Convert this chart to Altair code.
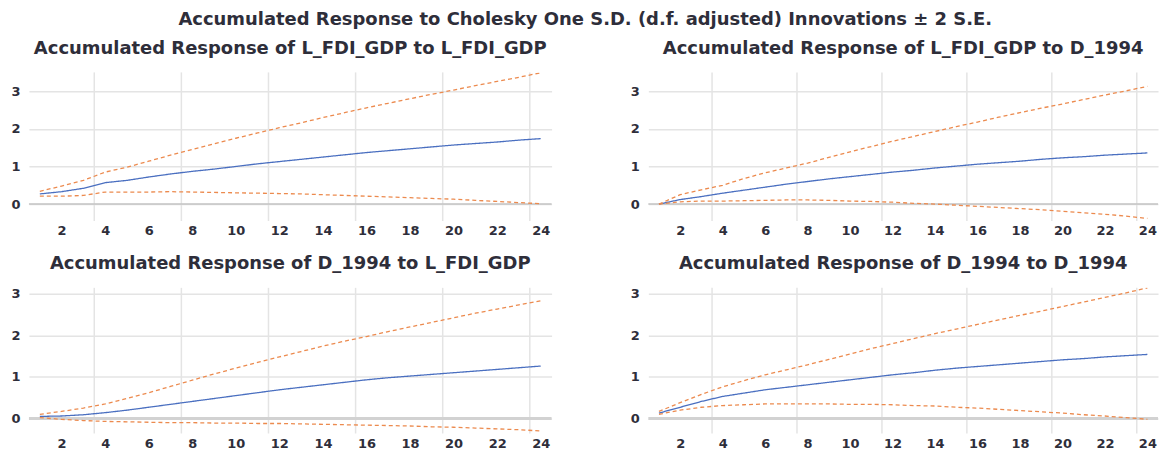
import altair as alt
import pandas as pd

periods = list(range(1, 25))
x_labels = [2, 4, 6, 8, 10, 12, 14, 16, 18, 20, 22, 24]
x_grid = [3.5, 7.5, 11.5, 15.5, 19.5, 23.5]
y_labels = [0, 1, 2, 3]

main_title = "Accumulated Response to Cholesky One S.D. (d.f. adjusted) Innovations \u00b1 2 S.E."
panel_titles = [
    "Accumulated Response of L_FDI_GDP to L_FDI_GDP",
    "Accumulated Response of L_FDI_GDP to D_1994",
    "Accumulated Response of D_1994 to L_FDI_GDP",
    "Accumulated Response of D_1994 to D_1994",
]

# Panel 1: L_FDI_GDP to L_FDI_GDP
resp_1 = [0.27, 0.33, 0.42, 0.57, 0.63, 0.72, 0.80, 0.87, 0.93, 1.00, 1.07, 1.13,
          1.19, 1.25, 1.31, 1.37, 1.42, 1.47, 1.52, 1.57, 1.61, 1.65, 1.70, 1.74]
upper_1 = [0.34, 0.48, 0.63, 0.85, 0.98, 1.14, 1.30, 1.45, 1.60, 1.75, 1.89, 2.03,
           2.16, 2.30, 2.43, 2.56, 2.68, 2.80, 2.92, 3.03, 3.15, 3.26, 3.37, 3.49]
lower_1 = [0.21, 0.21, 0.23, 0.32, 0.32, 0.32, 0.33, 0.32, 0.31, 0.30, 0.29, 0.28,
           0.27, 0.25, 0.23, 0.21, 0.19, 0.17, 0.15, 0.13, 0.10, 0.07, 0.04, 0.01]

# Panel 2: L_FDI_GDP to D_1994
resp_2 = [0.00, 0.12, 0.20, 0.29, 0.37, 0.45, 0.53, 0.60, 0.67, 0.73, 0.79, 0.85,
          0.90, 0.96, 1.01, 1.06, 1.10, 1.14, 1.19, 1.23, 1.26, 1.30, 1.33, 1.36]
upper_2 = [0.00, 0.25, 0.38, 0.50, 0.68, 0.83, 0.96, 1.09, 1.24, 1.39, 1.53, 1.67,
           1.80, 1.93, 2.06, 2.18, 2.31, 2.43, 2.55, 2.66, 2.78, 2.90, 3.01, 3.13]
lower_2 = [0.00, 0.06, 0.08, 0.08, 0.09, 0.10, 0.11, 0.11, 0.10, 0.08, 0.07, 0.05,
           0.02, 0.00, -0.03, -0.06, -0.09, -0.12, -0.15, -0.19, -0.23, -0.27, -0.32, -0.38]

# Panel 3: D_1994 to L_FDI_GDP
resp_3 = [0.05, 0.06, 0.09, 0.14, 0.20, 0.27, 0.34, 0.41, 0.48, 0.55, 0.62, 0.69,
          0.75, 0.81, 0.87, 0.93, 0.98, 1.02, 1.06, 1.10, 1.14, 1.18, 1.22, 1.26]
upper_3 = [0.10, 0.17, 0.25, 0.35, 0.48, 0.62, 0.77, 0.92, 1.07, 1.21, 1.35, 1.48,
           1.61, 1.74, 1.86, 1.97, 2.09, 2.20, 2.31, 2.42, 2.53, 2.63, 2.73, 2.83]
lower_3 = [0.02, -0.02, -0.05, -0.07, -0.08, -0.09, -0.10, -0.10, -0.11, -0.11, -0.12, -0.12,
           -0.13, -0.14, -0.15, -0.16, -0.17, -0.18, -0.20, -0.21, -0.23, -0.25, -0.27, -0.30]

# Panel 4: D_1994 to D_1994
resp_4 = [0.13, 0.27, 0.41, 0.53, 0.61, 0.69, 0.75, 0.81, 0.87, 0.93, 0.99, 1.05,
          1.10, 1.16, 1.21, 1.25, 1.29, 1.33, 1.37, 1.41, 1.44, 1.48, 1.51, 1.54]
upper_4 = [0.17, 0.38, 0.58, 0.76, 0.91, 1.05, 1.17, 1.29, 1.42, 1.55, 1.68, 1.80,
           1.92, 2.04, 2.15, 2.26, 2.37, 2.48, 2.58, 2.69, 2.80, 2.91, 3.02, 3.14]
lower_4 = [0.10, 0.20, 0.27, 0.31, 0.33, 0.35, 0.35, 0.35, 0.35, 0.34, 0.34, 0.33,
           0.31, 0.30, 0.27, 0.25, 0.22, 0.19, 0.16, 0.13, 0.09, 0.06, 0.02, -0.02]

BLUE = "#4a6fc0"
ORANGE = "#ec8a4e"
GRID = "#e4e4e4"
TEXT = "#2e2e3a"
FONT = "DejaVu Sans"
series_names = ["Response", "+2 S.E.", "-2 S.E."]

x_axis = alt.Axis(values=x_labels, grid=False, domain=False, ticks=False, title=None,
                  labelPadding=4, labelFontSize=13, labelFontWeight="bold",
                  labelColor=TEXT, labelFont=FONT, labelFlush=False)
y_axis = alt.Axis(values=y_labels, grid=True, gridColor=GRID, gridWidth=1.5,
                  domain=False, ticks=False, title=None, labelPadding=9,
                  labelFontSize=13, labelFontWeight="bold", labelColor=TEXT,
                  labelFont=FONT, labelFlush=False)


def panel(title, resp, upper, lower, xdom, ydom, width, height, zero_w, zero_c):
    df = pd.DataFrame({
        "period": periods * 3,
        "value": resp + upper + lower,
        "series": [series_names[0]] * 24 + [series_names[1]] * 24 + [series_names[2]] * 24,
    })
    xs = alt.Scale(domain=xdom, nice=False, zero=False)
    ys = alt.Scale(domain=ydom, nice=False, zero=False)
    lines = alt.Chart(df).mark_line(strokeWidth=1.3, clip=True).encode(
        x=alt.X("period:Q", scale=xs, axis=x_axis),
        y=alt.Y("value:Q", scale=ys, axis=y_axis),
        color=alt.Color("series:N", scale=alt.Scale(domain=series_names, range=[BLUE, ORANGE, ORANGE]), legend=None),
        strokeDash=alt.StrokeDash("series:N", scale=alt.Scale(domain=series_names, range=[[1, 0], [4, 3], [4, 3]]), legend=None),
    )
    vgrid = alt.Chart(pd.DataFrame({"period": x_grid})).mark_rule(
        color=GRID, strokeWidth=1.5
    ).encode(x=alt.X("period:Q", scale=xs, axis=x_axis))
    zero = alt.Chart(pd.DataFrame({"value": [0]})).mark_rule(
        color=zero_c, strokeWidth=zero_w
    ).encode(y=alt.Y("value:Q", scale=ys, axis=y_axis))
    return alt.layer(vgrid, zero, lines).properties(
        width=width, height=height,
        title=alt.TitleParams(title, fontSize=18, font=FONT, fontWeight="bold",
                              color=TEXT, anchor="middle", offset=14),
    )


p1 = panel(panel_titles[0], resp_1, upper_1, lower_1, [0.5, 24.5], [-0.45, 3.5], 524, 149, 1.5, "#c4c4c4")
p2 = panel(panel_titles[1], resp_2, upper_2, lower_2, [0.5, 24.5], [-0.45, 3.5], 511, 149, 1.5, "#c4c4c4")
p3 = panel(panel_titles[2], resp_3, upper_3, lower_3, [0.5, 24.5], [-0.36, 3.14], 524, 146, 3, "#d2d2d2")
p4 = panel(panel_titles[3], resp_4, upper_4, lower_4, [0.5, 24.5], [-0.36, 3.14], 511, 146, 3, "#d2d2d2")

chart = alt.concat(p1, p2, p3, p4, columns=2, spacing={"row": 67, "column": 97},
                   bounds="flush").properties(
    title=alt.TitleParams(main_title, fontSize=18, font=FONT, fontWeight="bold",
                          color=TEXT, anchor="middle", offset=11),
    padding={"left": 2, "top": 2, "right": 0, "bottom": 0},
).configure_view(stroke=None)

chart.save("out.html", embed_options={"renderer": "svg", "actions": False})
